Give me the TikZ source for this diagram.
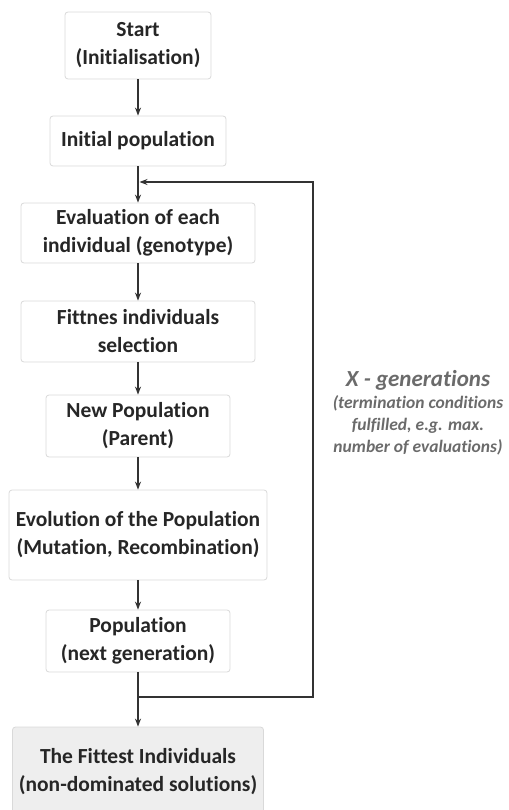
\documentclass[tikz,border=0pt]{standalone}
\usepackage{fontspec}
\setmainfont{Carlito}[Ligatures=NoCommon]
\usepackage{xcolor}
\usetikzlibrary{arrows.meta}

\definecolor{boxline}{HTML}{D9D9D9}
\definecolor{boxtext}{HTML}{262626}
\definecolor{arrline}{HTML}{333333}
\definecolor{sidetext}{HTML}{6B6B6B}
\definecolor{lastfill}{HTML}{EEEEEE}

\tikzset{
    stepbox/.style={draw=boxline, line width=0.8pt, rounded corners=3pt, fill=white,
        text=boxtext, align=center, inner sep=0pt,
        font=\fontsize{21.5}{28}\selectfont\bfseries},
    flow/.style={draw=arrline, line width=1.3pt, -{Stealth[length=8pt,width=6pt]}},
    sidelabel/.style={text=sidetext, align=center, inner sep=0pt}
}

\begin{document}
\begin{tikzpicture}[x=1pt, y=-1pt]
        \clip (0,0) rectangle (508,810);

        % Blocchi del flusso
        \node[stepbox, minimum width=146, minimum height=67] (start) at (138,45.5) {Start\\(Initialisation)};
        \node[stepbox, minimum width=176, minimum height=50] (init) at (138,141) {Initial population};
        \node[stepbox, minimum width=234, minimum height=60] (eval) at (138,233) {Evaluation of each\\individual (genotype)};
        \node[stepbox, minimum width=234, minimum height=61] (select) at (138,331.5) {Fittnes individuals\\selection};
        \node[stepbox, minimum width=184, minimum height=62] (newpop) at (138,426) {New Population\\(Parent)};
        \node[stepbox, minimum width=258, minimum height=90] (evol) at (138,535) {Evolution of the Population\\(Mutation, Recombination)};
        \node[stepbox, minimum width=184, minimum height=62] (nextgen) at (138,641) {Population\\(next generation)};
        \node[stepbox, fill=lastfill, minimum width=251, minimum height=90] (fittest) at (138,772) {The Fittest Individuals\\(non-dominated solutions)};

        % Frecce principali
        \draw[flow] (start) -- (init);
        \draw[flow] (init) -- (eval);
        \draw[flow] (eval) -- (select);
        \draw[flow] (select) -- (newpop);
        \draw[flow] (newpop) -- (evol);
        \draw[flow] (evol) -- (nextgen);
        \draw[flow] (nextgen) -- (fittest);

        % Ciclo delle generazioni
        \coordinate (join) at (138,697);
        \coordinate (back) at (139.5,182);
        \draw[flow] (join) -- (313,697) |- (back);

        % Etichetta del ciclo
        \node[sidelabel, font=\fontsize{23}{26}\selectfont\bfseries\itshape] (gens) at (418,380) {X - generations};
        \node[sidelabel, font=\fontsize{17.5}{22}\selectfont\bfseries\itshape] (cond) at (418,425)
            {(termination conditions\\fulfilled, e.g. max.\\number of evaluations)};
    \end{tikzpicture}
\end{document}
